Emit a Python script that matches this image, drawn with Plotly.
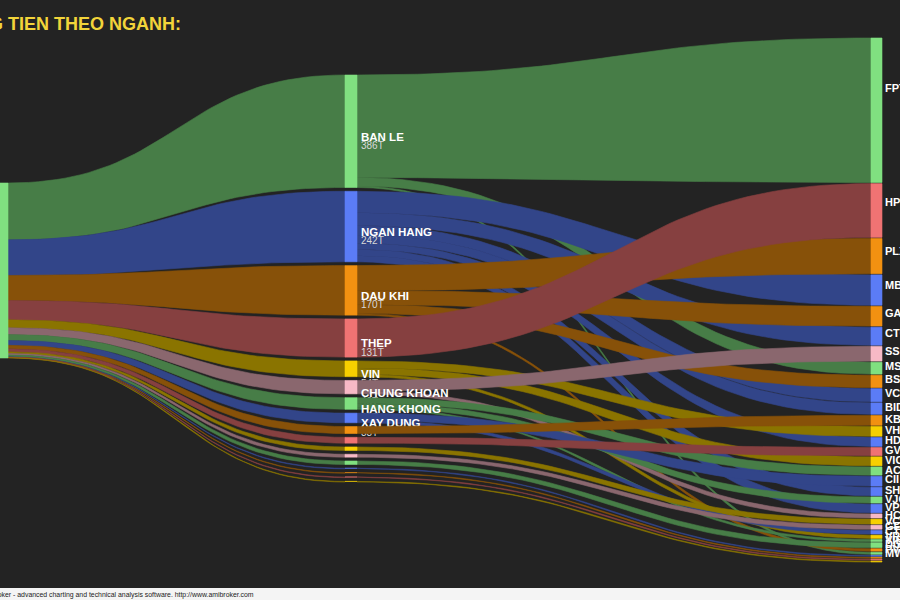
import numpy as np
import plotly.graph_objects as go

# ---------------- data ----------------
SECTORS = ["BAN LE", "NGAN HANG", "DAU KHI", "THEP", "VIN", "CHUNG KHOAN",
           "HANG KHONG", "XAY DUNG", "BDS KCN", "CAO SU", "BAT DONG SAN",
           "DIEN", "HOA CHAT", "THUY SAN", "DET MAY", "PHAN BON", "BAO HIEM"]

STOCKS = ["FPT", "HPG", "PLX", "MBB", "GAS", "CTG", "SSI", "MSN", "BSR", "VCB",
          "BID", "KBC", "VHM", "HDB", "GVR", "VIC", "ACB", "CII", "SHB", "VJC",
          "VPB", "HCM", "VCG", "GEX", "CTD", "VRE", "VIB", "DGC", "PVS", "MWG",
          "VHC", "TCM", "DPM", "BVH"]

STOCK_SECTOR = ["BAN LE", "THEP", "DAU KHI", "NGAN HANG", "DAU KHI", "NGAN HANG",
                "CHUNG KHOAN", "BAN LE", "DAU KHI", "NGAN HANG", "NGAN HANG",
                "BDS KCN", "VIN", "NGAN HANG", "CAO SU", "VIN", "HANG KHONG",
                "XAY DUNG", "NGAN HANG", "HANG KHONG", "NGAN HANG", "CHUNG KHOAN",
                "BAT DONG SAN", "DIEN", "XAY DUNG", "VIN", "HANG KHONG", "HOA CHAT",
                "DAU KHI", "BAN LE", "THUY SAN", "DET MAY", "PHAN BON", "BAO HIEM"]

# money flow (ty dong)
STOCK_VALUE = [352, 131, 86, 74, 48, 44, 36, 29, 30, 32,
               28, 24, 24, 22, 20, 22, 20, 24, 21, 15,
               21, 10, 12, 10, 9, 8, 5, 12, 6, 5,
               2, 2, 2, 2]

TITLE = "DONG TIEN THEO NGANH:"
FOOTER = "AmiBroker - advanced charting and technical analysis software. http://www.amibroker.com"

# ---------------- style / layout params ----------------
BG = "#232323"
PALETTE = ["#80e080", "#5b7cf6", "#f29111", "#f07373", "#f7d000", "#f7b9c6"]
FLOW_DARK = 0.56

L_X = (-4, 8);   L_Y = (183, 358)
M_X = (345, 357); M_Y = (75, 482); M_GAP = 3.8
R_X = (871, 882); R_Y = (38, 562); R_GAP = 1.1


def darken(hexc, f):
    h = hexc.lstrip("#")
    r, g, b = (int(h[i:i + 2], 16) for i in (0, 2, 4))
    return "rgb(%d,%d,%d)" % (r * f, g * f, b * f)


def ribbon(xa, ya0, ya1, xb, yb0, yb1, n=48):
    t = np.linspace(0, 1, n)
    xm = (xa + xb) / 2.0
    bx = (1 - t) ** 3 * xa + 3 * (1 - t) ** 2 * t * xm + 3 * (1 - t) * t ** 2 * xm + t ** 3 * xb

    def by(a, b):
        return (1 - t) ** 3 * a + 3 * (1 - t) ** 2 * t * a + 3 * (1 - t) * t ** 2 * b + t ** 3 * b

    top = by(ya0, yb0)
    bot = by(ya1, yb1)
    return np.concatenate([bx, bx[::-1], [bx[0]]]), np.concatenate([top, bot[::-1], [top[0]]])


def rect(x0, x1, y0, y1):
    return [x0, x1, x1, x0, x0], [y0, y0, y1, y1, y0]


# ---------------- layout computation ----------------
sec_idx = {s: i for i, s in enumerate(SECTORS)}
sector_val = [sum(v for v, s in zip(STOCK_VALUE, STOCK_SECTOR) if s == sec) for sec in SECTORS]
sector_col = [PALETTE[i % len(PALETTE)] for i in range(len(SECTORS))]
stock_col = [sector_col[sec_idx[s]] for s in STOCK_SECTOR]
total = float(sum(sector_val))

k_l = (L_Y[1] - L_Y[0]) / total
k_m = (M_Y[1] - M_Y[0] - (len(SECTORS) - 1) * M_GAP) / total
k_r = (R_Y[1] - R_Y[0] - (len(STOCKS) - 1) * R_GAP) / total

mid_top = []
y = M_Y[0]
for v in sector_val:
    mid_top.append(y)
    y += v * k_m + M_GAP

r_top = []
y = R_Y[0]
for v in STOCK_VALUE:
    r_top.append(y)
    y += v * k_r + R_GAP

fig = go.Figure()


def add_poly(xs, ys, color):
    fig.add_trace(go.Scatter(x=xs, y=ys, mode="lines", fill="toself",
                             fillcolor=color, line=dict(width=0.6, color=color),
                             hoverinfo="skip", showlegend=False))


def add_text(x, y, text, size, color, pos="middle right"):
    fig.add_trace(go.Scatter(x=[x], y=[y], mode="text", text=[text],
                             textposition=pos,
                             textfont=dict(family="Liberation Sans, Arial", size=size, color=color),
                             hoverinfo="skip", showlegend=False))


# left -> middle flows
cum = L_Y[0]
for i, v in enumerate(sector_val):
    h_l = v * k_l
    h_m = v * k_m
    xs, ys = ribbon(L_X[1], cum, cum + h_l, M_X[0], mid_top[i], mid_top[i] + h_m)
    add_poly(xs, ys, darken(sector_col[i], FLOW_DARK))
    cum += h_l

# left node
xs, ys = rect(L_X[0], L_X[1], L_Y[0], L_Y[1])
add_poly(xs, ys, PALETTE[0])

# middle -> right flows, sector by sector
for i, sec in enumerate(SECTORS):
    off = mid_top[i]
    for j, st in enumerate(STOCKS):
        if STOCK_SECTOR[j] != sec:
            continue
        v = STOCK_VALUE[j]
        xs, ys = ribbon(M_X[1], off, off + v * k_m, R_X[0], r_top[j], r_top[j] + v * k_r)
        add_poly(xs, ys, darken(sector_col[i], FLOW_DARK))
        off += v * k_m
    xs, ys = rect(M_X[0], M_X[1], mid_top[i], mid_top[i] + max(sector_val[i] * k_m, 0.6))
    add_poly(xs, ys, sector_col[i])
    if sector_val[i] >= 30:
        c = mid_top[i] + sector_val[i] * k_m / 2
        add_text(M_X[1] + 4, c + 6.5, "<b>%s</b>" % sec, 11.5, "#ffffff")
        add_text(M_X[1] + 4, c + 15.3, "%dT" % round(sector_val[i]), 10, "#d8d8d8")

# right nodes + labels
for j, st in enumerate(STOCKS):
    h = STOCK_VALUE[j] * k_r
    xs, ys = rect(R_X[0], R_X[1], r_top[j], r_top[j] + h)
    add_poly(xs, ys, stock_col[j])
for j, st in enumerate(STOCKS):
    if STOCK_VALUE[j] < 3:
        continue
    h = STOCK_VALUE[j] * k_r
    add_text(R_X[1] + 3, r_top[j] + 0.35 * h + 1, "<b>%s</b>" % st, 11, "#ffffff")

fig.update_layout(
    width=900, height=600, autosize=False,
    margin=dict(l=0, r=0, t=0, b=0),
    paper_bgcolor=BG, plot_bgcolor=BG,
    showlegend=False, hovermode=False,
    xaxis=dict(range=[0, 900], visible=False, fixedrange=True),
    yaxis=dict(range=[600, 0], visible=False, fixedrange=True),
    shapes=[dict(type="rect", xref="x", yref="y", x0=-10, x1=910, y0=588, y1=601,
                 fillcolor="#f4f4f4", line=dict(width=0), layer="above")],
    annotations=[
        dict(x=183, y=24, xref="x", yref="y", xanchor="right", yanchor="middle",
             text="<b>%s</b>" % TITLE, showarrow=False,
             font=dict(family="Liberation Sans, Arial", size=18, color="#f2d43a")),
        dict(x=256, y=594.5, xref="x", yref="y", xanchor="right", yanchor="middle",
             text=FOOTER, showarrow=False,
             font=dict(family="Liberation Sans, Arial", size=6.9, color="#222222")),
    ],
)

fig.write_html("out.html")
